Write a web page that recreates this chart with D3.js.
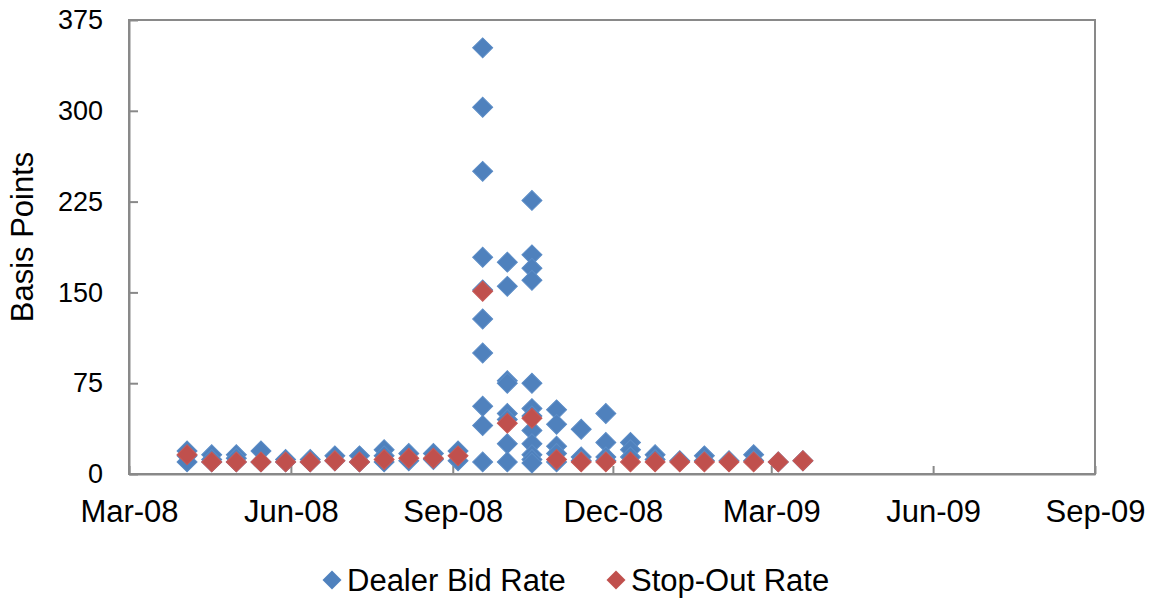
<!DOCTYPE html>
<html>
<head>
<meta charset="utf-8">
<script src="https://cdn.jsdelivr.net/npm/d3@7"></script>
<style>
  body { margin: 0; background: #fff; }
  svg text { font-family: "Liberation Sans", Arial, sans-serif; fill: #000; }
</style>
</head>
<body>
<div id="chart"></div>
<script>
// auction dates (every two weeks)
const auctionDates = ["2008-04-03", "2008-04-17", "2008-05-01", "2008-05-15", "2008-05-29",
  "2008-06-12", "2008-06-26", "2008-07-10", "2008-07-24", "2008-08-07", "2008-08-21",
  "2008-09-04", "2008-09-18", "2008-10-02", "2008-10-16", "2008-10-30", "2008-11-13",
  "2008-11-27", "2008-12-11", "2008-12-25", "2009-01-08", "2009-01-22", "2009-02-05",
  "2009-02-19", "2009-03-05", "2009-03-19"];

// dealer bids, several per auction (basis points)
const dealerBidRates = [
  [19, 15, 10], [16, 12, 10], [16, 13, 10], [19, 10], [12, 10],
  [12, 10], [15, 11], [15, 10], [20, 15, 10], [17, 11], [17, 12],
  [19, 11], [352, 303, 250, 179, 152, 128, 100, 56, 40, 10],
  [175, 155, 77, 75, 50, 45, 25, 10],
  [226, 181, 170, 160, 75, 54, 48, 36, 25, 16, 12, 9],
  [53, 41, 23, 17, 10], [37, 14, 11], [50, 26, 14, 11],
  [26, 20, 14], [16, 12], [11], [15, 11], [11], [16, 11], [10], [11]
];

// stop-out rate per auction (basis points)
const stopOutRates = [16, 10, 10, 10, 10, 10, 11, 10, 12, 13, 13, 15, 151,
  42, 46, 12, 10, 10, 10, 10, 10, 10, 10, 10, 10, 11];

const yTicks = [0, 75, 150, 225, 300, 375];
const seriesNames = ["Dealer Bid Rate", "Stop-Out Rate"];
const seriesColors = ["#4F81BD", "#C0504D"];

const parseDate = d3.timeParse("%Y-%m-%d");

const margin = {top: 20, right: 58, bottom: 124, left: 129};
const width = 1153 - margin.left - margin.right,
      height = 598 - margin.top - margin.bottom;

const svg = d3.select("#chart")
  .append("svg")
  .attr("width", 1153)
  .attr("height", 598);

const chart = svg.append("g")
  .attr("transform", `translate(${margin.left}, ${margin.top})`);

const x = d3.scaleTime()
  .domain([new Date(2008, 2, 1), new Date(2009, 8, 1)])
  .range([0, width]);

const y = d3.scaleLinear()
  .domain([0, 375])
  .range([height, 0]);

// plot area border
chart.append("rect")
  .attr("width", width)
  .attr("height", height)
  .attr("fill", "none")
  .attr("stroke", "#898989")
  .attr("stroke-width", 2);

const xAxis = chart.append("g")
  .attr("class", "x axis")
  .attr("transform", `translate(0, ${height})`)
  .call(d3.axisBottom(x)
    .tickValues(d3.timeMonth.range(x.domain()[0], d3.timeDay.offset(x.domain()[1], 1), 3))
    .tickFormat(d3.timeFormat("%b-%y"))
    .tickSizeInner(-8)
    .tickSizeOuter(0)
    .tickPadding(26));

const yAxis = chart.append("g")
  .attr("class", "y axis")
  .call(d3.axisLeft(y)
    .tickValues(yTicks)
    .tickSizeInner(-9)
    .tickSizeOuter(0)
    .tickPadding(26));

chart.selectAll(".axis path, .axis line")
  .attr("stroke", "#898989")
  .attr("stroke-width", 2);
chart.selectAll(".x.axis text").style("font-size", "31px");
chart.selectAll(".y.axis text").style("font-size", "27px");

// y axis title
svg.append("text")
  .attr("transform", "translate(22, 237) rotate(-90)")
  .attr("text-anchor", "middle")
  .attr("dy", "0.35em")
  .style("font-size", "31px")
  .text("Basis Points");

const diamond = d3.symbol().type(d3.symbolSquare).size(200);

const dealerPoints = [];
auctionDates.forEach((d, i) => {
  dealerBidRates[i].forEach(v => dealerPoints.push({date: parseDate(d), value: v}));
});
const stopPoints = auctionDates.map((d, i) => ({date: parseDate(d), value: stopOutRates[i]}));

chart.selectAll(".dealer")
  .data(dealerPoints)
  .enter()
  .append("path")
  .attr("class", "dealer")
  .attr("d", diamond)
  .attr("transform", d => `translate(${x(d.date)}, ${y(d.value)}) rotate(45)`)
  .style("fill", seriesColors[0])
  .style("stroke", "#5B8CC6")
  .style("stroke-width", 1);

chart.selectAll(".stop")
  .data(stopPoints)
  .enter()
  .append("path")
  .attr("class", "stop")
  .attr("d", diamond)
  .attr("transform", d => `translate(${x(d.date)}, ${y(d.value)}) rotate(45)`)
  .style("fill", seriesColors[1])
  .style("stroke", "#C85A57")
  .style("stroke-width", 1);

// legend
const legendX = [332, 616];
const legend = svg.selectAll(".legend")
  .data(seriesNames)
  .enter()
  .append("g")
  .attr("class", "legend")
  .attr("transform", (d, i) => `translate(${legendX[i]}, 580)`);

legend.append("path")
  .attr("d", d3.symbol().type(d3.symbolSquare).size(180))
  .attr("transform", "rotate(45)")
  .style("fill", (d, i) => seriesColors[i]);

legend.append("text")
  .attr("x", 15)
  .attr("dy", "0.36em")
  .style("font-size", "31px")
  .text(d => d);
</script>
</body>
</html>
